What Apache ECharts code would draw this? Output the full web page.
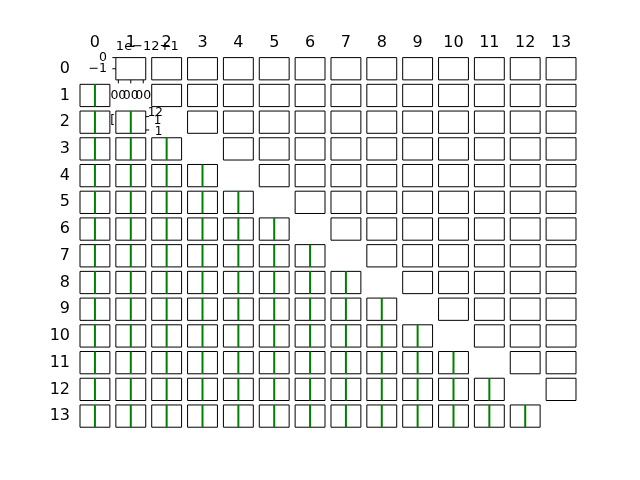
<!DOCTYPE html>
<html>
<head>
<meta charset="utf-8">
<script src="https://cdn.jsdelivr.net/npm/echarts@6/dist/echarts.min.js"></script>
<style>html,body{margin:0;padding:0;background:#fff}#c{width:640px;height:480px}</style>
</head>
<body>
<div id="c"></div>
<script>
// ---- data ----
const colLabels = ['0','1','2','3','4','5','6','7','8','9','10','11','12','13'];
const rowLabels = ['0','1','2','3','4','5','6','7','8','9','10','11','12','13'];
// position of the (collapsed) green bar inside each lower-triangle cell, per column (axis -1..1)
const barPos = [0,0,0,0,0,0,0,0,0,0,0,0,0,0];
// stray tick labels of cell (row 0, col 1)  (cell axes: x -0.1..1.1, y -2..0)
const c01YTicks = [0, -1];
const c01YLabels = ['0', '\u22121'];
const c01XTicks = [0, 0.5, 1];
const c01XLabels = ['00', '00', '00'];
const c01Offset = '1e\u221212+1';
// stray right-side tick labels of cell (row 2, col 1)  (cell axis y 0..1)
const c21YTicks = [0.75, 0.15];
const c21Texts = [['12', 0.93, 0], ['1', 0.55, 6], ['1', 0.05, 7]]; // text, y value, x shift

// ---- layout ----
const L0 = 80, T0 = 57.6, CW = 29.88, CH = 22.27, PX = 35.855, PY = 26.72;
const N = colLabels.length;
const grids = [], xAxes = [], yAxes = [], series = [], graphics = [];
const font = 'DejaVu Sans';
const gridIndexOf = {};

colLabels.forEach((t, j) => {
  graphics.push({type:'text', x: L0 + j*PX + CW/2, y: 43,
    style:{text:t, fontFamily:font, fontSize:16, fill:'#000', align:'center', verticalAlign:'middle'}});
});
rowLabels.forEach((t, i) => {
  graphics.push({type:'text', x: 70, y: T0 + i*PY + CH/2,
    style:{text:t, fontFamily:font, fontSize:16, fill:'#000', align:'right', verticalAlign:'middle'}});
});

let k = 0;
for (let i = 0; i < N; i++) {
  for (let j = 0; j < N; j++) {
    if (i === j) continue;
    gridIndexOf[i + ',' + j] = k;
    grids.push({left: L0 + j*PX, top: T0 + i*PY, width: CW, height: CH,
      show: true, backgroundColor: '#fff', borderColor: '#000', borderWidth: 1,
      containLabel: false, outerBoundsMode: 'none'});
    const xa = {type:'value', gridIndex:k, min:-1, max:1, show:false};
    const ya = {type:'value', gridIndex:k, min:0, max:1, show:false};
    if (i === 0 && j === 1) { xa.min = -0.1; xa.max = 1.1; ya.min = -2; ya.max = 0; }
    xAxes.push(xa); yAxes.push(ya);
    if (i > j) {
      series.push({type:'line', xAxisIndex:k, yAxisIndex:k, symbol:'none', silent:true, animation:false,
        data:[[barPos[j],0],[barPos[j],1]], lineStyle:{color:'#008000', width:2}, z:1});
    }
    k++;
  }
}

const chart = echarts.init(document.getElementById('c'), null, {renderer:'canvas'});
chart.setOption({
  animation:false,
  backgroundColor:'#fff',
  grid:grids, xAxis:xAxes, yAxis:yAxes, series:series
});

// stray axis decorations placed through the cells' own scales
const tickStyle = {stroke:'#000', lineWidth:1};
const g01 = gridIndexOf['0,1'];
c01YTicks.forEach((v, n) => {
  const p = chart.convertToPixel({gridIndex:g01}, [-0.1, v]);
  graphics.push({type:'line', shape:{x1:p[0]-3.5, y1:p[1], x2:p[0], y2:p[1]}, style:tickStyle, z:50});
  graphics.push({type:'text', x:p[0]-9, y:p[1],
    style:{text:c01YLabels[n], fontFamily:font, fontSize:12.5, fill:'#000', align:'right', verticalAlign:'middle'}, z:50});
});
c01XTicks.forEach((v, n) => {
  const p = chart.convertToPixel({gridIndex:g01}, [v, -2]);
  graphics.push({type:'line', shape:{x1:p[0], y1:p[1], x2:p[0], y2:p[1]+3.5}, style:tickStyle, z:50});
  graphics.push({type:'text', x:p[0], y:p[1]+9,
    style:{text:c01XLabels[n], fontFamily:font, fontSize:12.5, fill:'#000', align:'center', verticalAlign:'top'}, z:50});
});
{
  const p = chart.convertToPixel({gridIndex:g01}, [-0.1, 0]);
  graphics.push({type:'text', x:p[0], y:47,
    style:{text:c01Offset, fontFamily:font, fontSize:13, fill:'#000', align:'left', verticalAlign:'middle'}, z:50});
}
const g21 = gridIndexOf['2,1'];
c21YTicks.forEach((v) => {
  const p = chart.convertToPixel({gridIndex:g21}, [1, v]);
  graphics.push({type:'line', shape:{x1:p[0], y1:p[1], x2:p[0]+3.5, y2:p[1]}, style:tickStyle, z:50});
});
c21Texts.forEach(([t, v, dx]) => {
  const p = chart.convertToPixel({gridIndex:g21}, [1, v]);
  graphics.push({type:'text', x:p[0]+2+dx, y:p[1],
    style:{text:t, fontFamily:font, fontSize:12, fill:'#000', align:'left', verticalAlign:'middle'}, z:50});
});
{
  const p = chart.convertToPixel({gridIndex:g21}, [-1, 0.55]);
  graphics.push({type:'text', x:p[0]-1, y:p[1],
    style:{text:'[', fontFamily:font, fontSize:12, fill:'#000', align:'right', verticalAlign:'middle'}, z:50});
}
chart.setOption({graphic: graphics});
</script>
</body>
</html>
